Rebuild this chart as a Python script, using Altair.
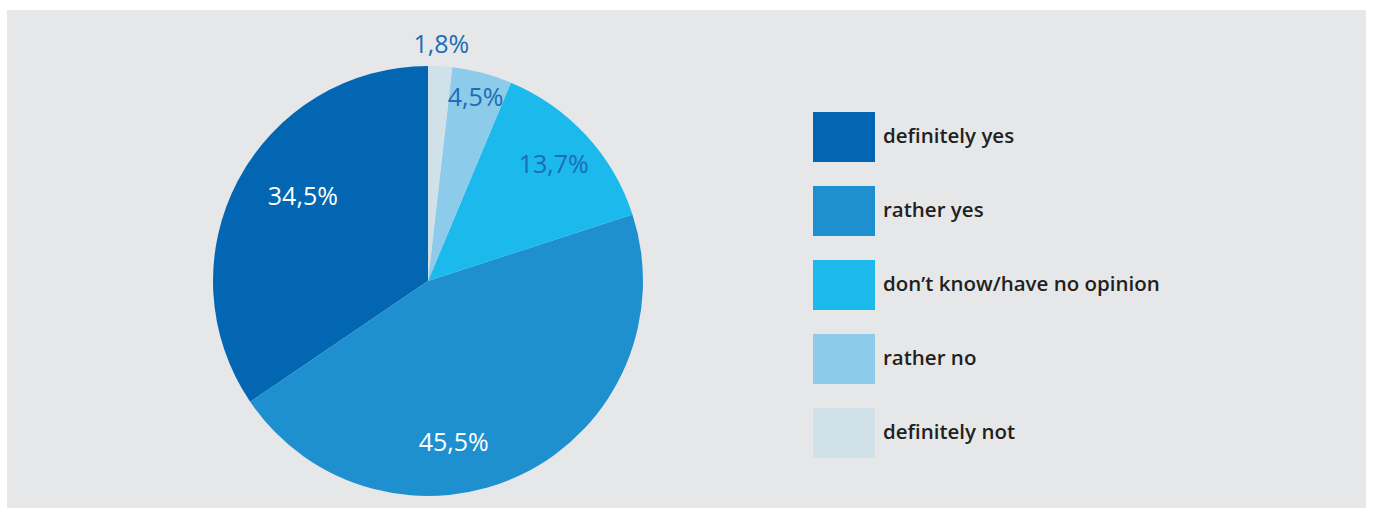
import altair as alt
import pandas as pd

categories = ["definitely yes", "rather yes", "don\u2019t know/have no opinion", "rather no", "definitely not"]
values = [34.5, 45.5, 13.7, 4.5, 1.8]
labels = ["34,5%", "45,5%", "13,7%", "4,5%", "1,8%"]
pie_colors = ["#0266b3", "#1e90d0", "#1bb9ec", "#8ccbea", "#d1e1ea"]

df = pd.DataFrame({"cat": categories, "value": values, "label": labels, "idx": list(range(len(categories)))})

color = alt.Color(
    "cat:N",
    scale=alt.Scale(domain=categories, range=pie_colors),
    legend=alt.Legend(
        title=None,
        orient="none",
        legendX=812,
        legendY=102,
        symbolType="M-1.24,-1H1.24V1H-1.24Z",
        symbolSize=2500,
        symbolStrokeWidth=0,
        symbolOpacity=1,
        rowPadding=24,
        labelOffset=14,
        labelFont="Open Sans",
        labelFontWeight=600,
        labelFontSize=20.5,
        labelColor="#231f20",
        labelLimit=400,
        labelBaseline="middle",
    ),
)

base = alt.Chart(df)

pie = base.mark_arc(outerRadius=215, stroke=None).encode(
    theta=alt.Theta("value:Q", stack=True, scale=alt.Scale(domain=[0, 100])),
    order=alt.Order("idx:Q", sort="descending"),
    color=color,
    x=alt.value(421),
    y=alt.value(271),
)

text = base.transform_window(
    cum="sum(value)", sort=[alt.SortField("idx", order="descending")], frame=[None, 0]
).transform_calculate(
    mid="datum.cum - datum.value/2 + (datum.idx==1 ? 4.75 : datum.idx==0 ? 1.7 : 0)",
    r="datum.idx==4 ? 236 : datum.idx==3 ? 189 : datum.idx==2 ? 171 : datum.idx==1 ? 164 : 151",
    tc="datum.idx<=1 ? 'white' : '#1b6db5'",
).mark_text(font="Open Sans", fontSize=25, baseline="middle", align="center").encode(
    theta=alt.Theta("mid:Q", stack=False, scale=alt.Scale(domain=[0, 100])),
    radius=alt.Radius("r:Q", scale=None),
    text="label:N",
    color=alt.Color("tc:N", scale=None),
    x=alt.value(421),
    y=alt.value(271),
)

chart = alt.layer(pie, text).properties(
    width=1359,
    height=498,
    padding={"left": 7, "top": 10, "right": 8, "bottom": 9},
    autosize=alt.AutoSizeParams(type="none"),
    background="white",
).configure_view(fill="#e6e7e8", stroke=None)

chart.save("out.html", embed_options={"renderer": "svg", "actions": False})
